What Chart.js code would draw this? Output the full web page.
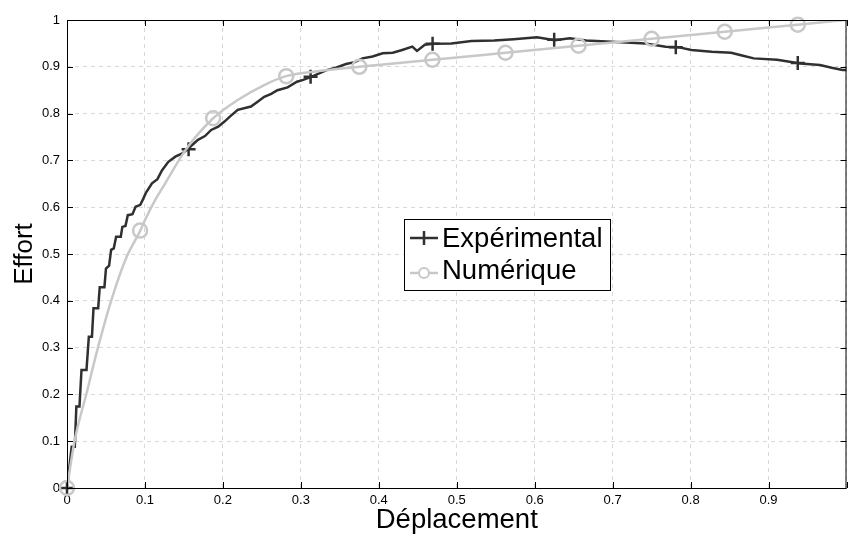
<!DOCTYPE html>
<html lang="fr">
<head>
  <meta charset="UTF-8" />
  <title>Effort - Déplacement</title>
  <script src="https://cdn.jsdelivr.net/npm/chart.js"></script>
  <style>
    body { margin: 0; background: #fff; }
    canvas { display: block; }
  </style>
</head>
<body>
  <canvas id="chart" width="856" height="536"></canvas>

  <script>
    const expX = [0, 0.006, 0.010, 0.012, 0.016, 0.0186, 0.025, 0.028, 0.032, 0.034, 0.040, 0.042, 0.048, 0.050, 0.054,
      0.0566, 0.060, 0.063, 0.069, 0.071, 0.075, 0.078, 0.084, 0.088, 0.094, 0.097, 0.101, 0.109, 0.116, 0.122, 0.130,
      0.139, 0.148, 0.156, 0.168, 0.177, 0.185, 0.194, 0.202, 0.210, 0.219, 0.236, 0.245, 0.253, 0.262, 0.270, 0.283,
      0.295, 0.303, 0.314, 0.333, 0.345, 0.358, 0.369, 0.379, 0.392, 0.405, 0.418, 0.430, 0.443, 0.449, 0.459, 0.470,
      0.493, 0.519, 0.548, 0.573, 0.603, 0.626, 0.645, 0.666, 0.692, 0.717, 0.742, 0.768, 0.784, 0.801, 0.827, 0.852,
      0.866, 0.881, 0.911, 0.941, 0.966, 0.981, 0.995, 1.0];
    const expY = [0, 0.088, 0.088, 0.174, 0.174, 0.252, 0.252, 0.323, 0.323, 0.384, 0.384, 0.429, 0.429, 0.469, 0.475,
      0.509, 0.512, 0.537, 0.537, 0.558, 0.560, 0.583, 0.585, 0.601, 0.605, 0.615, 0.630, 0.651, 0.660, 0.679, 0.697,
      0.708, 0.715, 0.726, 0.744, 0.752, 0.765, 0.772, 0.783, 0.795, 0.808, 0.815, 0.826, 0.836, 0.842, 0.850, 0.856,
      0.868, 0.872, 0.879, 0.893, 0.898, 0.906, 0.910, 0.918, 0.922, 0.929, 0.930, 0.936, 0.943, 0.934, 0.947, 0.949,
      0.950, 0.955, 0.956, 0.959, 0.963, 0.957, 0.961, 0.956, 0.954, 0.952, 0.950, 0.943, 0.942, 0.936, 0.932, 0.930,
      0.924, 0.918, 0.915, 0.907, 0.904, 0.898, 0.893, 0.893];
    const expMarkX = [0, 0.156, 0.3125, 0.469, 0.625, 0.781, 0.9375];
    const expMarkY = [0, 0.724, 0.879, 0.949, 0.958, 0.942, 0.908];

    // courbe numérique
    const numX = [0, 0.010, 0.025, 0.040, 0.057, 0.0755, 0.094, 0.101, 0.113, 0.126, 0.152, 0.1875, 0.219, 0.253,
      0.281, 0.329, 0.375, 0.469, 0.5625, 0.656, 0.75, 0.844, 0.9375, 1.0];
    const numY = [0, 0.103, 0.202, 0.302, 0.402, 0.49, 0.55, 0.576, 0.615, 0.651, 0.722, 0.79, 0.829, 0.861,
      0.88, 0.892, 0.90, 0.915, 0.93, 0.945, 0.96, 0.975, 0.99, 1.0];
    const numMarkX = [0, 0.09375, 0.1875, 0.28125, 0.375, 0.46875, 0.5625, 0.65625, 0.75, 0.84375, 0.9375];
    const numMarkY = [0, 0.55, 0.79, 0.88, 0.90, 0.915, 0.93, 0.945, 0.96, 0.975, 0.99];

    const seriesNames = ['Expérimental', 'Numérique'];
    const expColor = '#303030';
    const numColor = '#c8c8c8';

    const pts = (xs, ys) => xs.map((x, i) => ({ x: x, y: ys[i] }));
    const fmt = v => String(Math.round(v * 10) / 10);

    // cadre + graduations vers l'intérieur, façon matlab
    const axesBox = {
      id: 'axesBox',
      afterDraw(chart) {
        const { ctx, chartArea: a, scales: { x, y } } = chart;
        ctx.save();
        ctx.strokeStyle = '#000';
        ctx.lineWidth = 1;
        ctx.strokeRect(a.left + 0.5, a.top + 0.5, a.right - a.left - 1, a.bottom - a.top);
        ctx.beginPath();
        x.ticks.forEach(t => {
          const px = Math.round(x.getPixelForValue(t.value)) + 0.5;
          ctx.moveTo(px, a.bottom); ctx.lineTo(px, a.bottom - 6);
          ctx.moveTo(px, a.top); ctx.lineTo(px, a.top + 6);
        });
        y.ticks.forEach(t => {
          const py = Math.round(y.getPixelForValue(t.value)) + 0.5;
          ctx.moveTo(a.left, py); ctx.lineTo(a.left + 6, py);
          ctx.moveTo(a.right, py); ctx.lineTo(a.right - 6, py);
        });
        ctx.stroke();
        ctx.restore();
      }
    };

    const boxLegend = {
      id: 'boxLegend',
      afterDraw(chart) {
        const ctx = chart.ctx;
        ctx.save();
        ctx.fillStyle = '#fff';
        ctx.fillRect(404, 219, 206, 71);
        ctx.strokeStyle = '#000';
        ctx.lineWidth = 1;
        ctx.strokeRect(404.5, 219.5, 206, 71);
        ctx.lineWidth = 2.5;
        // Expérimental
        ctx.strokeStyle = expColor;
        ctx.beginPath();
        ctx.moveTo(410, 238); ctx.lineTo(438, 238);
        ctx.moveTo(424, 231); ctx.lineTo(424, 245);
        ctx.stroke();
        // Numérique
        ctx.strokeStyle = numColor;
        ctx.beginPath();
        ctx.moveTo(410, 273); ctx.lineTo(438, 273);
        ctx.stroke();
        ctx.lineWidth = 2;
        ctx.beginPath();
        ctx.arc(424, 273, 5, 0, Math.PI * 2);
        ctx.fillStyle = '#fff';
        ctx.fill();
        ctx.stroke();
        ctx.fillStyle = '#000';
        ctx.font = '27.5px "Liberation Sans", Arial, sans-serif';
        ctx.textBaseline = 'alphabetic';
        ctx.fillText(seriesNames[0], 442, 247);
        ctx.fillText(seriesNames[1], 442, 279);
        ctx.restore();
      }
    };

    const ctx = document.getElementById('chart').getContext('2d');
    const chart = new Chart(ctx, {
      type: 'scatter',
      data: {
        datasets: [
          {
            label: seriesNames[1],
            data: pts(numX, numY),
            showLine: true,
            borderColor: numColor,
            borderWidth: 2.5,
            pointRadius: 0,
            cubicInterpolationMode: 'monotone',
            order: 1
          },
          {
            label: seriesNames[1] + ' marqueurs',
            data: pts(numMarkX, numMarkY),
            showLine: false,
            pointStyle: 'circle',
            pointRadius: 7,
            borderColor: numColor,
            backgroundColor: 'rgba(0,0,0,0)',
            borderWidth: 2.5,
            clip: false,
            order: 0
          },
          {
            label: seriesNames[0],
            data: pts(expX, expY),
            showLine: true,
            borderColor: expColor,
            borderWidth: 2.5,
            pointRadius: 0,
            order: 3
          },
          {
            label: seriesNames[0] + ' marqueurs',
            data: pts(expMarkX, expMarkY),
            showLine: false,
            pointStyle: 'cross',
            pointRadius: 7,
            borderColor: expColor,
            borderWidth: 2.5,
            clip: false,
            order: 2
          }
        ]
      },
      options: {
        responsive: false,
        animation: false,
        devicePixelRatio: 1,
        layout: { padding: { top: 20, right: -2, left: 0, bottom: 0 } },
        plugins: { legend: { display: false }, tooltip: { enabled: false } },
        scales: {
          x: {
            type: 'linear', min: 0, max: 1,
            afterFit: s => { s.height = 48; },
            grid: { color: '#d8d8d8', lineWidth: 1, drawTicks: false },
            border: { display: false, dash: [4, 4] },
            ticks: {
              stepSize: 0.1, padding: 5, color: '#000',
              font: { family: '"Liberation Sans", Arial, sans-serif', size: 13 },
              callback: v => (v >= 1 ? '' : fmt(v)),
              maxRotation: 0
            },
            title: {
              display: true, text: 'Déplacement', color: '#000',
              font: { family: '"Liberation Sans", Arial, sans-serif', size: 27.5, lineHeight: 1 },
              padding: { top: 0, bottom: 2 }
            }
          },
          y: {
            type: 'linear', min: 0, max: 1,
            afterFit: s => { s.width = 67; },
            grid: { color: '#d8d8d8', lineWidth: 1, drawTicks: false },
            border: { display: false, dash: [4, 4] },
            ticks: {
              stepSize: 0.1, padding: 7, color: '#000',
              font: { family: '"Liberation Sans", Arial, sans-serif', size: 13 },
              callback: v => fmt(v)
            },
            title: {
              display: true, text: 'Effort', color: '#000',
              font: { family: '"Liberation Sans", Arial, sans-serif', size: 26, lineHeight: 1 },
              padding: { top: 12, bottom: 0 }
            }
          }
        }
      },
      plugins: [axesBox, boxLegend]
    });
  </script>
</body>
</html>
